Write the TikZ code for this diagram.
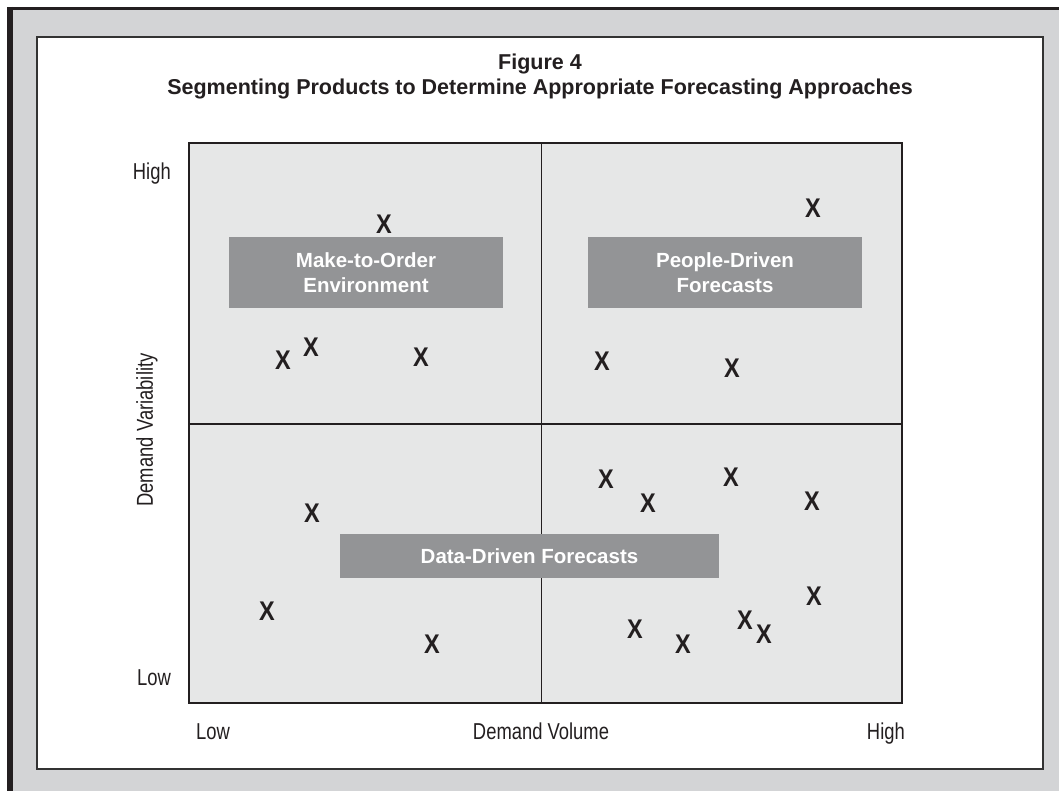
\documentclass[tikz,border=0pt]{standalone}
\usepackage{fontspec}
\setmainfont{Liberation Sans}
\newfontfamily\narrowsans[FakeStretch=0.8]{Liberation Sans}
\newfontfamily\marksans[FakeStretch=0.87]{Liberation Sans}
\usepackage{xcolor}
\usetikzlibrary{positioning}

\definecolor{framegray}{HTML}{D3D4D6}
\definecolor{plotgray}{HTML}{E6E7E7}
\definecolor{boxgray}{HTML}{939496}
\definecolor{inkblack}{HTML}{231F20}

\tikzset{
  axislabel/.style={font=\narrowsans\fontsize{23}{26}\selectfont, text=inkblack, inner sep=0pt},
  titletext/.style={font=\bfseries\fontsize{21.5}{25}\selectfont, text=inkblack, inner sep=0pt},
  segbox/.style={fill=boxgray, text=white, font=\bfseries\fontsize{20.5}{25}\selectfont, align=center, inner sep=0pt},
  xmark/.style={font=\marksans\bfseries\fontsize{27}{27}\selectfont, text=inkblack, inner sep=0pt}
}

\begin{document}
\begin{tikzpicture}[x=1pt, y=-1pt]
  \useasboundingbox (0,0) rectangle (1059,791);
  % Frame
  \fill[framegray] (7,7) rectangle (1059,791);
  \draw[inkblack, line width=3pt] (7,8.5) -- (1059,8.5);
  \draw[inkblack, line width=5.5pt] (9.75,7) -- (9.75,791);
  \draw[fill=white, draw=black!80, line width=1.4pt] (37,37) rectangle (1043,769);
  % Title
  \node[titletext, anchor=base] (title1) at (540,70) {Figure 4};
  \node[titletext, anchor=base] (title2) at (540,95) {Segmenting Products to Determine Appropriate Forecasting Approaches};
  % Quadrants
  \draw[fill=plotgray, draw=inkblack, line width=1.6pt] (189,143) rectangle (902,703);
  \draw[inkblack, line width=1.6pt] (541.5,143) -- (541.5,703);
  \draw[inkblack, line width=1.6pt] (189,424) -- (902,424);
  % Axis labels
  \node[axislabel, anchor=base east] (hi-y) at (171,180) {High};
  \node[axislabel, anchor=base east] (lo-y) at (171,685) {Low};
  \node[axislabel, rotate=90] (var) at (147,430) {Demand Variability};
  \node[axislabel, anchor=base west] (lo-x) at (196,739) {Low};
  \node[axislabel, anchor=base] (vol) at (541,739) {Demand Volume};
  \node[axislabel, anchor=base east] (hi-x) at (905,739) {High};
  % Segments
  \node[segbox, minimum width=274pt, minimum height=71pt] (mto) at (366,272.5) {Make-to-Order\\Environment};
  \node[segbox, minimum width=274pt, minimum height=71pt] (people) at (725,272.5) {People-Driven\\Forecasts};
  \node[segbox, minimum width=379pt, minimum height=44pt] (data) at (529.5,556) {Data-Driven Forecasts};
  % Marks, upper left
  \node[xmark] (m1) at (384,224) {X};
  \node[xmark] (m2) at (283,360) {X};
  \node[xmark] (m3) at (311,347) {X};
  \node[xmark] (m4) at (421,357) {X};
  % Marks, upper right
  \node[xmark] (m5) at (813,208) {X};
  \node[xmark] (m6) at (602,361) {X};
  \node[xmark] (m7) at (732,368) {X};
  % Marks, lower left
  \node[xmark] (m8) at (312,513) {X};
  \node[xmark] (m9) at (267,611) {X};
  \node[xmark] (m10) at (432,644) {X};
  % Marks, lower right
  \node[xmark] (m11) at (606,479) {X};
  \node[xmark] (m12) at (648,503) {X};
  \node[xmark] (m13) at (731,477) {X};
  \node[xmark] (m14) at (812,501) {X};
  \node[xmark] (m15) at (814,596) {X};
  \node[xmark] (m16) at (635,629) {X};
  \node[xmark] (m17) at (683,644) {X};
  \node[xmark] (m18) at (745,620) {X};
  \node[xmark] (m19) at (764,634) {X};
\end{tikzpicture}
\end{document}
